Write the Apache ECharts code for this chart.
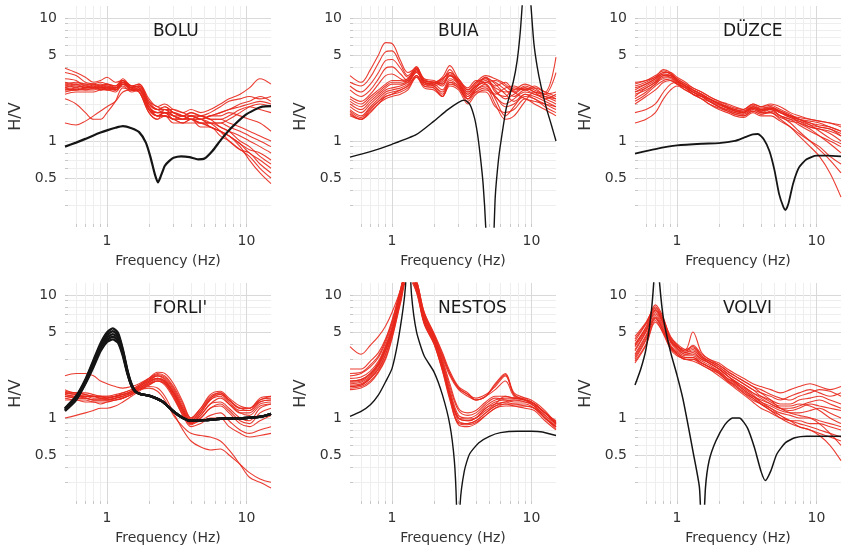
<!DOCTYPE html>
<html>
<head>
<meta charset="utf-8">
<script src="https://cdn.jsdelivr.net/npm/echarts@6/dist/echarts.min.js"></script>
<style>
  html, body { margin: 0; padding: 0; background: #fff; }
  #chart { width: 848px; height: 550px; }
</style>
</head>
<body>
<div id="chart"></div>
<script>
// Frequency samples (Hz) shared by all measured H/V curves
const FREQ = [0.5, 0.6, 0.7, 0.8, 0.9, 1.0, 1.15, 1.3, 1.5, 1.7, 2.0, 2.3, 2.6, 3.0, 3.5, 4.0, 4.7, 5.5, 6.5, 7.5, 9, 10.5, 12.5, 15];

// Station names
const STATIONS = ['BOLU', 'BUIA', 'DÜZCE', "FORLI'", 'NESTOS', 'VOLVI'];

// Axis ticks and labels
const X_TICKS = [0.6, 0.7, 0.8, 0.9, 1, 2, 3, 4, 5, 6, 7, 8, 9, 10];
const X_LABELS = [1, 10];
const Y_TICKS = [0.3, 0.4, 0.5, 0.6, 0.7, 0.8, 0.9, 1, 2, 3, 4, 5, 6, 7, 8, 9, 10];
const Y_LABELS = [0.5, 1, 5, 10];

// ---- BOLU ----
const boluRed = [
  [3.9,3.6,3.3,3.0,3.1,3.3,3.0,3.1,2.8,2.9,2.2,1.9,2.0,1.8,1.7,1.8,1.7,1.8,2.0,2.2,2.4,2.7,3.2,2.9],
  [3.6,3.4,3.0,2.9,2.8,2.9,2.7,3.0,2.7,2.8,2.0,1.8,1.9,1.7,1.6,1.7,1.6,1.7,1.9,2.1,2.2,2.3,2.2,2.3],
  [2.9,2.8,2.8,2.7,2.7,2.8,2.6,3.1,2.8,2.7,1.9,1.7,1.8,1.6,1.5,1.6,1.5,1.6,1.7,1.8,1.9,2.0,2.1,2.0],
  [2.7,2.6,2.7,2.8,2.6,2.7,2.6,3.0,2.6,2.6,1.8,1.6,1.7,1.5,1.6,1.5,1.6,1.5,1.5,1.4,1.3,1.2,1.1,1.0],
  [2.6,2.7,2.8,2.7,2.8,2.6,2.7,2.9,2.7,2.5,1.7,1.5,1.8,1.6,1.5,1.5,1.4,1.4,1.3,1.2,1.1,1.0,0.9,0.8],
  [2.8,2.9,2.7,2.8,2.9,2.8,2.8,3.1,2.7,2.8,2.0,1.8,1.7,1.7,1.6,1.5,1.5,1.3,1.2,1.1,0.95,0.8,0.7,0.6],
  [2.5,2.6,2.6,2.6,2.7,2.7,2.6,2.8,2.5,2.6,1.8,1.6,1.6,1.5,1.4,1.5,1.3,1.3,1.1,1.0,0.85,0.75,0.6,0.5],
  [3.0,2.9,2.9,2.9,2.8,2.9,2.8,3.2,2.8,2.9,2.1,1.9,1.8,1.8,1.7,1.6,1.6,1.5,1.3,1.2,1.0,0.9,0.75,0.65],
  [2.4,2.5,2.5,2.5,2.6,2.6,2.5,2.9,2.6,2.5,1.7,1.5,1.6,1.4,1.4,1.4,1.4,1.3,1.2,1.1,0.9,0.7,0.55,0.45],
  [2.7,2.8,2.7,2.7,2.6,2.7,2.7,3.0,2.8,2.7,1.9,1.7,1.7,1.6,1.5,1.6,1.5,1.6,1.6,1.7,1.6,1.5,1.4,1.2],
  [2.2,2.0,1.7,1.5,1.5,1.7,2.1,2.7,2.6,2.6,1.9,1.6,1.7,1.5,1.5,1.6,1.5,1.4,1.4,1.5,1.7,1.9,2.0,1.9],
  [1.4,1.35,1.45,1.6,1.75,1.9,2.1,2.5,2.6,2.5,1.8,1.6,1.6,1.5,1.4,1.5,1.4,1.3,1.2,1.1,0.95,0.85,0.8,0.7],
  [2.9,3.0,2.9,2.8,2.7,2.8,2.7,3.0,2.7,2.8,2.0,1.8,1.8,1.7,1.6,1.6,1.5,1.6,1.7,1.8,2.0,2.1,2.3,2.1],
  [2.6,2.6,2.7,2.7,2.7,2.6,2.6,2.9,2.6,2.7,1.9,1.6,1.6,1.5,1.5,1.5,1.4,1.4,1.4,1.3,1.2,1.1,1.0,0.9],
  [2.8,2.7,2.6,2.7,2.8,2.7,2.7,3.0,2.7,2.6,1.8,1.7,1.7,1.6,1.6,1.5,1.5,1.4,1.2,1.0,0.85,0.8,0.65,0.55],
  [3.2,3.1,2.8,2.9,3.0,2.9,2.8,3.1,2.7,2.8,2.1,1.8,1.9,1.7,1.6,1.7,1.6,1.5,1.5,1.6,1.8,1.9,1.8,1.7]
];
const boluBlackFreq = [0.5,0.6,0.7,0.8,0.9,1.0,1.15,1.3,1.5,1.7,1.9,2.05,2.2,2.32,2.45,2.6,2.8,3.0,3.4,3.9,4.5,5.0,5.7,6.6,7.8,9.7,11.4,13,15];
const boluBlack = [0.9,0.97,1.04,1.11,1.17,1.22,1.28,1.32,1.27,1.18,0.97,0.74,0.54,0.46,0.53,0.63,0.69,0.73,0.75,0.74,0.71,0.72,0.83,1.03,1.28,1.61,1.79,1.9,1.92];

// ---- BUIA ----
const buiaRed = [
  [3.4,3.0,3.8,5.0,6.3,6.2,4.5,3.6,3.9,3.2,3.0,3.2,3.6,3.1,2.6,3.0,3.2,2.8,3.0,2.6,2.7,2.5,2.4,2.2],
  [3.0,2.8,3.3,4.3,5.3,5.4,4.2,3.4,4.0,3.0,2.9,3.1,3.8,3.0,2.5,2.9,3.3,2.5,2.3,2.7,2.6,2.8,2.5,4.8],
  [2.8,2.5,2.9,3.6,4.5,4.6,3.9,3.3,3.8,3.1,3.0,3.3,4.1,3.2,2.7,3.1,2.9,2.3,2.0,2.2,2.5,2.4,2.2,2.0],
  [2.6,2.3,2.6,3.2,3.9,4.0,3.5,3.1,3.7,2.9,2.8,3.0,3.4,2.9,2.4,2.8,3.0,3.1,2.8,2.5,2.8,2.6,2.4,3.6],
  [2.3,2.1,2.4,2.9,3.4,3.5,3.2,3.0,3.9,3.0,2.9,3.2,3.5,3.0,2.3,2.7,3.3,2.9,2.4,2.1,2.4,2.3,2.1,1.9],
  [1.8,1.6,1.9,2.2,2.5,2.6,2.7,2.9,3.6,3.0,2.8,2.5,3.1,2.8,2.2,2.6,2.9,2.2,1.6,1.9,2.4,2.2,2.0,1.8],
  [1.7,1.5,1.8,2.1,2.3,2.4,2.6,2.8,3.4,2.8,2.7,2.3,2.9,2.7,2.1,2.5,2.7,2.0,1.5,1.6,2.1,2.5,2.3,2.1],
  [1.9,1.7,2.0,2.3,2.6,2.7,2.8,3.0,3.6,3.0,2.9,2.6,3.2,2.9,2.3,2.7,3.1,2.6,2.2,2.4,2.7,2.5,2.2,2.4],
  [1.6,1.5,1.7,2.0,2.2,2.3,2.4,2.6,3.3,2.7,2.6,2.3,2.8,2.6,2.0,2.4,2.6,2.3,1.9,2.0,2.3,2.2,1.9,1.7],
  [2.0,1.8,2.1,2.4,2.7,2.9,2.9,3.1,3.8,3.1,3.0,2.8,3.4,3.1,2.5,2.8,3.2,3.0,2.6,2.3,2.6,2.4,2.3,2.2],
  [1.75,1.55,1.85,2.1,2.4,2.5,2.6,2.8,3.4,2.9,2.8,2.4,3.0,2.8,2.2,2.6,2.8,2.4,2.7,2.8,2.6,2.7,2.5,2.3],
  [2.1,1.9,2.2,2.5,2.8,3.0,3.0,3.2,4.0,3.1,3.0,2.9,3.6,3.2,2.6,3.0,3.4,3.2,2.9,2.5,2.2,2.1,2.0,1.9],
  [1.65,1.5,1.75,2.0,2.3,2.4,2.5,2.7,3.3,2.8,2.7,2.3,3.0,2.7,2.2,2.5,2.5,1.9,1.7,1.8,2.2,2.0,1.8,1.6],
  [2.2,2.0,2.3,2.6,2.9,3.1,3.1,3.2,3.7,3.2,3.1,2.9,3.4,3.0,2.4,2.8,3.0,2.7,2.5,2.6,2.9,2.7,2.4,2.5]
];
const buiaBlackFreq = [0.5,0.7,1.0,1.5,2.0,2.5,3.0,3.3,3.6,3.9,4.1,4.3,4.5,4.7,4.9,5.1,5.3,5.5,5.8,6.05,6.6,7.4,7.9,8.3,8.6,9.2,9.9,10.4,11.0,11.7,12.8,13.9,15];
const buiaBlack = [0.74,0.82,0.94,1.13,1.45,1.79,2.06,2.15,2.0,1.55,1.15,0.75,0.45,0.2,0.05,0.03,0.1,0.35,0.7,1.0,1.85,3.0,4.5,7.5,13,40,13,6.3,4.0,2.8,1.85,1.35,1.0];

// ---- DÜZCE ----
const duzceRed = [
  [2.6,2.9,3.2,3.6,3.5,3.1,2.8,2.6,2.4,2.2,2.0,1.9,1.8,1.7,1.9,1.8,1.9,1.7,1.6,1.5,1.4,1.35,1.3,1.2],
  [2.3,2.7,3.0,3.4,3.3,3.0,2.7,2.5,2.3,2.1,1.9,1.8,1.7,1.65,1.8,1.7,1.8,1.6,1.5,1.45,1.35,1.3,1.25,1.1],
  [2.8,3.0,3.3,3.8,3.6,3.2,2.9,2.7,2.5,2.3,2.1,2.0,1.9,1.8,2.0,1.9,2.0,1.9,1.7,1.6,1.5,1.45,1.4,1.35],
  [2.1,2.4,2.8,3.1,3.2,2.9,2.7,2.4,2.3,2.1,1.9,1.75,1.65,1.6,1.75,1.65,1.75,1.6,1.5,1.35,1.2,1.1,1.0,0.9],
  [2.5,2.8,3.1,3.5,3.4,3.1,2.8,2.6,2.4,2.2,2.0,1.85,1.75,1.7,1.85,1.75,1.85,1.7,1.55,1.5,1.45,1.4,1.3,1.2],
  [1.4,1.5,1.7,2.2,2.6,2.8,2.6,2.4,2.2,2.1,1.9,1.8,1.7,1.65,1.8,1.7,1.7,1.5,1.3,1.1,0.9,0.75,0.55,0.35],
  [1.7,1.8,2.0,2.5,2.9,3.0,2.8,2.5,2.3,2.2,2.0,1.85,1.75,1.7,1.9,1.8,1.8,1.6,1.4,1.2,1.0,0.85,0.7,0.55],
  [3.0,3.1,3.4,3.7,3.5,3.2,2.9,2.6,2.4,2.2,2.05,1.9,1.8,1.75,1.95,1.85,1.9,1.75,1.6,1.4,1.25,1.1,0.95,0.8],
  [2.4,2.6,2.9,3.3,3.3,3.0,2.7,2.5,2.3,2.2,2.0,1.9,1.75,1.7,1.85,1.75,1.8,1.7,1.6,1.55,1.5,1.45,1.4,1.3],
  [2.7,2.9,3.2,3.5,3.4,3.1,2.8,2.6,2.4,2.2,2.0,1.85,1.8,1.75,1.9,1.8,1.85,1.75,1.6,1.5,1.35,1.2,1.05,0.95],
  [2.2,2.5,2.9,3.2,3.1,2.9,2.7,2.4,2.2,2.0,1.85,1.75,1.65,1.6,1.75,1.65,1.7,1.55,1.45,1.4,1.3,1.25,1.2,1.1],
  [2.9,3.1,3.3,3.6,3.6,3.3,3.0,2.7,2.5,2.3,2.1,1.95,1.85,1.8,2.0,1.9,1.95,1.8,1.65,1.5,1.4,1.3,1.25,1.15],
  [2.0,2.3,2.6,3.0,3.1,2.9,2.6,2.4,2.2,2.0,1.8,1.7,1.6,1.55,1.7,1.6,1.6,1.45,1.3,1.15,1.0,0.9,0.75,0.65],
  [2.5,2.7,3.0,3.4,3.4,3.1,2.8,2.5,2.35,2.15,1.95,1.85,1.75,1.7,1.85,1.75,1.85,1.7,1.55,1.45,1.3,1.25,1.15,1.0]
];
const duzceBlackFreq = [0.5,0.7,1.0,1.5,2.0,2.6,3.0,3.5,3.8,4.2,4.6,5.0,5.4,5.8,6.0,6.3,6.8,7.5,8.5,10,12,15];
const duzceBlack = [0.79,0.86,0.92,0.95,0.96,1.0,1.06,1.13,1.14,1.03,0.83,0.58,0.37,0.29,0.275,0.31,0.45,0.61,0.71,0.76,0.76,0.75];

// ---- FORLI' ----
const forliRed = [
  [2.2,2.3,2.3,2.2,2.0,1.9,1.8,1.75,1.8,1.9,2.1,2.3,2.2,1.8,1.3,1.0,1.2,1.5,1.6,1.4,1.2,1.2,1.4,1.45],
  [1.6,1.55,1.5,1.5,1.45,1.45,1.5,1.55,1.65,1.8,2.0,2.2,2.1,1.7,1.2,0.95,1.15,1.45,1.55,1.35,1.15,1.15,1.35,1.4],
  [1.5,1.45,1.45,1.4,1.4,1.4,1.45,1.5,1.6,1.75,1.95,2.1,2.0,1.6,1.15,0.9,1.1,1.4,1.5,1.3,1.1,1.1,1.3,1.35],
  [1.7,1.6,1.6,1.55,1.5,1.5,1.55,1.6,1.7,1.85,2.1,2.35,2.3,1.9,1.35,1.0,1.2,1.55,1.65,1.45,1.25,1.2,1.4,1.5],
  [1.45,1.4,1.4,1.35,1.35,1.35,1.4,1.45,1.55,1.7,1.85,2.0,1.9,1.5,1.1,0.9,1.05,1.3,1.45,1.3,1.1,1.05,1.25,1.3],
  [1.55,1.5,1.5,1.45,1.45,1.4,1.45,1.5,1.6,1.75,1.9,2.0,1.85,1.45,1.05,0.88,1.0,1.2,1.3,1.15,0.95,0.9,1.1,1.2],
  [1.0,1.05,1.1,1.15,1.2,1.2,1.25,1.35,1.5,1.65,1.85,2.0,1.9,1.55,1.1,0.9,0.95,1.05,1.1,0.95,0.8,0.75,0.8,0.85],
  [1.6,1.55,1.5,1.5,1.5,1.45,1.5,1.55,1.65,1.8,2.0,2.1,1.95,1.5,1.05,0.85,0.9,1.0,1.0,0.85,0.75,0.7,0.72,0.75],
  [1.5,1.5,1.45,1.4,1.4,1.4,1.4,1.45,1.55,1.7,1.8,1.75,1.5,1.1,0.8,0.65,0.58,0.55,0.56,0.5,0.42,0.36,0.32,0.3],
  [1.65,1.6,1.55,1.5,1.5,1.5,1.5,1.55,1.6,1.7,1.75,1.65,1.4,1.05,0.85,0.75,0.72,0.7,0.65,0.55,0.42,0.33,0.3,0.27],
  [1.55,1.5,1.5,1.5,1.45,1.45,1.5,1.55,1.65,1.8,2.05,2.25,2.15,1.75,1.25,0.98,1.15,1.45,1.6,1.4,1.2,1.15,1.35,1.4],
  [1.4,1.4,1.35,1.35,1.3,1.35,1.4,1.45,1.55,1.7,1.9,2.05,1.95,1.6,1.15,0.92,1.0,1.2,1.25,1.1,0.9,0.85,0.95,1.05],
  [1.6,1.6,1.55,1.5,1.5,1.45,1.5,1.6,1.7,1.85,2.05,2.2,2.05,1.65,1.2,0.95,1.1,1.4,1.55,1.4,1.2,1.2,1.45,1.5],
  [1.5,1.45,1.45,1.4,1.4,1.4,1.45,1.5,1.6,1.75,1.95,2.1,2.0,1.6,1.15,0.92,1.05,1.3,1.35,1.2,1.0,0.95,1.2,1.3]
];
const forliBlackFreq = [0.5,0.6,0.7,0.8,0.9,1.0,1.1,1.2,1.3,1.4,1.5,1.6,1.75,2.0,2.5,3.0,3.5,4.0,5.0,7.0,10,13,15];
const forliBlackA = [1.2,1.5,2.05,2.95,4.05,4.95,5.35,4.9,3.6,2.45,1.88,1.65,1.56,1.52,1.36,1.13,1.0,0.95,0.96,0.99,1.0,1.03,1.08];
const forliBlackB = [1.19,1.48,2.01,2.86,3.91,4.72,5.07,4.7,3.5,2.41,1.87,1.65,1.56,1.52,1.36,1.13,1.0,0.95,0.96,0.99,1.0,1.03,1.08];
const forliBlackC = [1.17,1.45,1.97,2.77,3.77,4.5,4.8,4.5,3.4,2.37,1.85,1.64,1.56,1.52,1.36,1.13,1.0,0.95,0.96,0.99,1.0,1.03,1.08];
const forliBlackD = [1.15,1.42,1.93,2.68,3.63,4.32,4.57,4.3,3.3,2.33,1.83,1.63,1.56,1.52,1.36,1.13,1.0,0.95,0.96,0.99,1.0,1.03,1.08];
const forliBlackE = [1.14,1.4,1.9,2.6,3.5,4.15,4.35,4.1,3.2,2.3,1.82,1.63,1.56,1.52,1.36,1.13,1.0,0.95,0.96,0.99,1.0,1.03,1.08];

// ---- NESTOS ----
const nestosRed = [
  [3.8,3.3,3.9,4.6,5.6,7.2,11,18,13,7.2,4.9,3.4,2.4,1.8,1.6,1.4,1.5,1.9,2.3,1.6,1.45,1.3,1.1,0.95],
  [2.5,2.5,2.9,3.4,4.4,6.2,11,18,13,7.0,4.7,3.2,2.3,1.75,1.55,1.45,1.55,1.8,2.2,1.55,1.4,1.25,1.05,0.9],
  [2.2,2.3,2.6,3.1,4.1,5.8,10.5,17,12.5,6.8,4.6,3.1,2.2,1.7,1.5,1.4,1.5,1.7,2.0,1.5,1.4,1.3,1.1,0.92],
  [1.9,1.95,2.2,2.7,3.6,5.0,9.5,16,11.5,6.2,4.3,2.7,1.6,1.0,0.95,1.0,1.2,1.35,1.4,1.4,1.35,1.25,1.05,0.85],
  [1.8,1.85,2.1,2.5,3.3,4.7,9.0,15,11,6.0,4.1,2.5,1.5,0.95,0.9,0.95,1.1,1.25,1.35,1.3,1.3,1.2,1.0,0.82],
  [2.0,2.05,2.3,2.8,3.8,5.3,10,17,12,6.5,4.4,2.8,1.7,1.05,1.0,1.05,1.25,1.4,1.45,1.45,1.4,1.3,1.1,0.88],
  [1.75,1.8,2.0,2.4,3.1,4.5,8.8,15,10.5,5.8,4.0,2.4,1.4,0.9,0.88,0.92,1.05,1.2,1.3,1.25,1.2,1.15,0.95,0.8],
  [1.85,1.9,2.15,2.6,3.5,4.9,9.5,16,11.5,6.3,4.3,2.6,1.55,1.0,0.98,1.0,1.15,1.3,1.5,1.45,1.45,1.35,1.15,0.9],
  [2.1,2.15,2.4,2.9,3.9,5.5,10.5,17,12,6.6,4.5,2.9,1.8,1.15,1.05,1.1,1.3,1.45,1.4,1.35,1.35,1.25,1.0,0.85],
  [1.95,2.0,2.25,2.7,3.6,5.1,9.8,16,11.8,6.4,4.4,2.7,1.6,1.0,0.95,1.0,1.2,1.3,1.35,1.4,1.4,1.3,1.1,0.9],
  [1.8,1.85,2.1,2.5,3.3,4.8,9.2,15,11,6.0,4.2,2.6,1.5,0.92,0.9,0.95,1.1,1.25,1.3,1.3,1.25,1.2,1.0,0.85],
  [2.0,2.05,2.3,2.8,3.7,5.2,10,17,12.5,6.9,4.7,3.0,1.9,1.2,1.1,1.15,1.35,1.5,1.5,1.45,1.4,1.3,1.1,0.92],
  [1.7,1.75,1.95,2.35,3.0,4.4,8.5,14,10.5,5.9,4.0,2.45,1.45,0.88,0.85,0.9,1.05,1.2,1.25,1.25,1.25,1.2,1.0,0.85],
  [2.3,2.35,2.7,3.2,4.3,6.0,11,18,13,7.3,4.8,3.3,2.3,1.75,1.55,1.4,1.5,1.85,2.25,1.55,1.4,1.3,1.1,0.92]
];
const nestosBlackFreq = [0.5,0.6,0.7,0.8,0.9,1.0,1.1,1.2,1.25,1.31,1.38,1.5,1.7,2.0,2.3,2.6,2.8,2.9,2.98,3.08,3.3,3.6,4.2,5.0,6.0,8.0,10,12,15];
const nestosBlack = [1.03,1.13,1.28,1.54,1.97,2.52,4.1,7.7,11.8,30,10.1,5.0,3.2,2.37,1.54,0.88,0.45,0.2,0.04,0.2,0.37,0.51,0.63,0.71,0.76,0.78,0.78,0.77,0.72];

// ---- VOLVI ----
const volviRed = [
  [4.6,6.0,7.8,6.2,4.6,4.0,3.6,5.0,3.4,3.0,2.8,2.5,2.3,2.1,1.9,1.8,1.7,1.6,1.7,1.8,1.9,1.8,1.7,1.8],
  [4.0,5.5,8.3,6.5,4.3,3.8,3.5,3.7,3.2,2.9,2.6,2.3,2.1,1.9,1.7,1.6,1.5,1.4,1.5,1.6,1.7,1.6,1.5,1.6],
  [3.5,5.0,7.2,5.8,4.1,3.6,3.3,3.4,3.0,2.8,2.5,2.2,2.0,1.8,1.6,1.5,1.4,1.3,1.3,1.4,1.45,1.5,1.4,1.3],
  [3.2,4.6,6.8,5.4,3.9,3.5,3.2,3.2,2.9,2.7,2.4,2.1,1.95,1.7,1.5,1.4,1.3,1.2,1.15,1.2,1.3,1.25,1.2,1.15],
  [3.0,4.3,6.5,5.0,3.7,3.3,3.0,3.0,2.8,2.6,2.3,2.0,1.85,1.6,1.4,1.3,1.2,1.1,1.05,1.0,1.0,0.95,0.9,0.85],
  [2.9,4.0,6.2,4.8,3.6,3.2,3.0,2.9,2.7,2.5,2.2,1.95,1.75,1.55,1.35,1.2,1.1,1.0,0.95,0.9,0.85,0.8,0.75,0.7],
  [4.2,5.8,7.6,6.0,4.4,3.9,3.4,3.6,3.1,2.9,2.7,2.4,2.2,2.0,1.8,1.6,1.4,1.2,1.1,1.05,1.0,0.9,0.75,0.6],
  [3.8,5.2,7.0,5.6,4.2,3.7,3.3,3.3,3.0,2.8,2.5,2.2,1.95,1.75,1.55,1.35,1.2,1.05,0.95,0.85,0.8,0.72,0.6,0.45],
  [3.3,4.7,6.6,5.2,3.8,3.4,3.1,3.1,2.8,2.6,2.35,2.05,1.85,1.65,1.45,1.3,1.15,1.0,0.9,0.85,0.8,0.75,0.7,0.65],
  [4.4,5.9,8.0,6.3,4.5,3.9,3.5,3.9,3.3,3.0,2.7,2.4,2.2,2.0,1.8,1.7,1.55,1.45,1.4,1.5,1.6,1.7,1.65,1.5],
  [3.1,4.4,6.4,5.1,3.8,3.4,3.1,3.1,2.8,2.6,2.4,2.1,1.9,1.7,1.5,1.35,1.25,1.15,1.1,1.1,1.15,1.2,1.1,1.0],
  [3.6,5.1,7.4,5.9,4.2,3.7,3.4,3.5,3.1,2.8,2.5,2.2,2.0,1.8,1.6,1.45,1.3,1.2,1.2,1.25,1.35,1.4,1.3,1.2],
  [2.8,3.9,6.0,4.9,3.7,3.3,3.0,3.0,2.7,2.5,2.3,2.0,1.8,1.6,1.45,1.3,1.15,1.05,0.95,0.95,0.9,0.9,0.85,0.8],
  [3.9,5.4,7.5,6.0,4.3,3.8,3.6,3.8,3.2,2.9,2.6,2.3,2.1,1.9,1.7,1.5,1.35,1.25,1.25,1.3,1.25,1.15,1.0,0.9]
];
const volviBlackFreq = [0.5,0.55,0.6,0.65,0.68,0.71,0.75,0.8,0.9,1.0,1.1,1.2,1.3,1.45,1.52,1.6,1.7,1.9,2.2,2.5,2.8,3.2,3.6,4.0,4.3,4.7,5.2,6.0,7.0,8.5,10,15];
const volviBlack = [1.85,2.5,3.65,6.8,12.2,30,12.5,6.4,3.43,2.23,1.45,0.88,0.54,0.27,0.08,0.27,0.45,0.65,0.88,1.0,1.0,0.83,0.57,0.37,0.31,0.37,0.51,0.63,0.69,0.71,0.71,0.71];

// ---------- chart assembly ----------
const FONT = '"DejaVu Sans", sans-serif';
const RED = '#e8281c';
const BLACK = '#151515';
const GRID_MAJOR = '#d9d9d9';
const GRID_MINOR = '#eeeeee';

const panels = [
  { red: boluRed,   black: [[boluBlackFreq, boluBlack, 2.2]] },
  { red: buiaRed,   black: [[buiaBlackFreq, buiaBlack, 1.4]] },
  { red: duzceRed,  black: [[duzceBlackFreq, duzceBlack, 1.8]] },
  { red: forliRed,  black: [
      [forliBlackFreq, forliBlackA, 2.4], [forliBlackFreq, forliBlackB, 2.4], [forliBlackFreq, forliBlackC, 2.4],
      [forliBlackFreq, forliBlackD, 2.4], [forliBlackFreq, forliBlackE, 2.4]] },
  { red: nestosRed, black: [[nestosBlackFreq, nestosBlack, 1.4]] },
  { red: volviRed,  black: [[volviBlackFreq, volviBlack, 1.5]] }
];

const COL_LEFT = [65, 350, 635];
const ROW_TOP = [6, 283];
const GRID_W = 206, GRID_H = 221;

const grids = [], xAxes = [], yAxes = [], series = [], titles = [];

panels.forEach((p, i) => {
  const col = i % 3, row = Math.floor(i / 3);
  grids.push({ left: COL_LEFT[col], top: ROW_TOP[row], width: GRID_W, height: GRID_H, containLabel: false });
  xAxes.push({
    type: 'log', logBase: 10, gridIndex: i, min: 0.5, max: 15,
    axisLine: { show: false },
    axisTick: { show: true, inside: true, length: 3, customValues: X_TICKS, lineStyle: { color: '#c8c8c8' } },
    axisLabel: { customValues: X_LABELS, fontSize: 14, color: '#333', fontFamily: FONT, margin: 7 },
    splitLine: { show: true, lineStyle: { width: 1, color: X_TICKS.map(v => X_LABELS.includes(v) ? GRID_MAJOR : GRID_MINOR) } },
    name: 'Frequency (Hz)', nameLocation: 'middle', nameGap: 27,
    nameTextStyle: { fontSize: 14, color: '#333', fontFamily: FONT }
  });
  yAxes.push({
    type: 'log', logBase: 10, gridIndex: i, min: 0.2, max: 12.5,
    axisLine: { show: false },
    axisTick: { show: true, inside: true, length: 3, customValues: Y_TICKS, lineStyle: { color: '#c8c8c8' } },
    axisLabel: { customValues: Y_LABELS, fontSize: 14, color: '#333', fontFamily: FONT, margin: 8 },
    splitLine: { show: true, lineStyle: { width: 1, color: Y_TICKS.map(v => Y_LABELS.includes(v) ? GRID_MAJOR : GRID_MINOR) } },
    name: 'H/V', nameLocation: 'middle', nameGap: 41, nameRotate: 90,
    nameTextStyle: { fontSize: 16, color: '#333', fontFamily: FONT }
  });
  titles.push({
    text: STATIONS[i], left: COL_LEFT[col] + 88, top: ROW_TOP[row] + 17, padding: 0,
    textStyle: { fontSize: 17, fontWeight: 'normal', color: '#1a1a1a', fontFamily: FONT }
  });
  p.red.forEach(curve => {
    series.push({
      type: 'line', xAxisIndex: i, yAxisIndex: i, showSymbol: false, symbol: 'none',
      smooth: 0.35, silent: true, z: 2,
      lineStyle: { color: RED, width: 1.1, opacity: 0.9 },
      data: FREQ.map((f, k) => [f, curve[k]])
    });
  });
  p.black.forEach(([fr, vals, w]) => {
    series.push({
      type: 'line', xAxisIndex: i, yAxisIndex: i, showSymbol: false, symbol: 'none',
      smooth: 0.2, silent: true, z: 3,
      lineStyle: { color: BLACK, width: w },
      data: fr.map((f, k) => [f, vals[k]])
    });
  });
});

const chart = echarts.init(document.getElementById('chart'), null, { renderer: 'canvas' });
chart.setOption({
  animation: false,
  backgroundColor: '#ffffff',
  title: titles,
  grid: grids,
  xAxis: xAxes,
  yAxis: yAxes,
  series: series
});
</script>
</body>
</html>
